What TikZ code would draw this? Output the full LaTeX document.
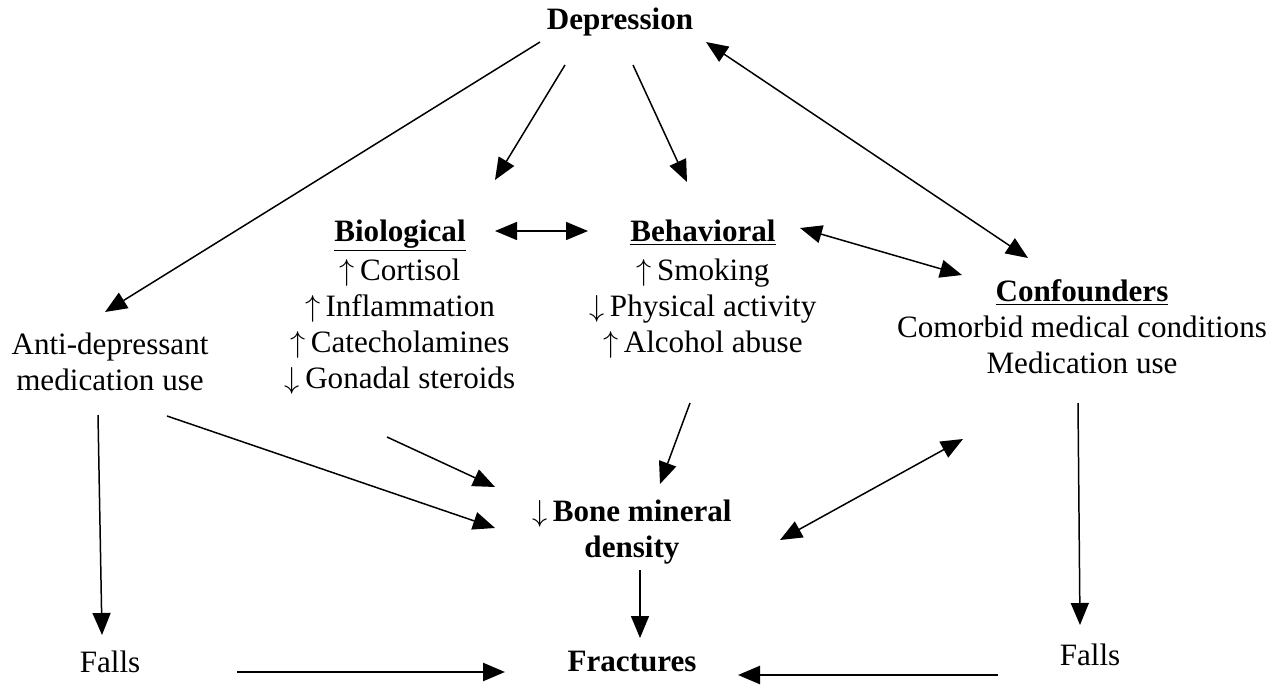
\documentclass[tikz,border=0pt]{standalone}
\usepackage{fontspec}
\setmainfont{Liberation Serif}
\usetikzlibrary{arrows.meta}
\newcommand\diagfont{\fontsize{17.7}{20.4}\selectfont}
\tikzset{
	txt/.style={font=\diagfont,align=center,inner sep=0pt},%
	heading/.style={font=\diagfont\bfseries,align=center,inner sep=0pt},%
	link/.style={-{Triangle[length=0.44cm,width=0.36cm]},line width=0.85pt},%
	twoway/.style={{Triangle[length=0.44cm,width=0.36cm]}-{Triangle[length=0.44cm,width=0.36cm]},line width=0.85pt},%
	heavy/.style={link,line width=1.4pt},%
}
\def\up{$\uparrow$\,}
\def\down{$\downarrow$\,}

\begin{document}
\begin{tikzpicture}[x=0.02cm,y=-0.02cm]
		\useasboundingbox (0,0) rectangle (1288,686);
		\node[heading] (dep) at (620,22) {Depression};
		\node[txt] (bio) at (400,307) {\textbf{\underline{Biological}}\\[2pt]\up Cortisol\\\up Inflammation\\\up Catecholamines\\\down Gonadal steroids};
		\node[txt] (beh) at (703,289) {\textbf{\underline{Behavioral}}\\[2pt]\up Smoking\\\down Physical activity\\\up Alcohol abuse};
		\node[txt] (conf) at (1082,327) {\textbf{\underline{Confounders}}\\Comorbid medical conditions\\Medication use};
		\node[txt] (anti) at (110,362) {Anti-depressant\\medication use};
		\node[heading] (bmd) at (632,532) {\down Bone mineral\\density};
		\node[txt] (fallsl) at (110,662) {Falls};
		\node[heading] (frac) at (632,662) {Fractures};
		\node[txt] (fallsr) at (1090,655) {Falls};
		% arrow ends
		\coordinate (dep-a) at (540,42);
		\coordinate (dep-b) at (565,65);
		\coordinate (dep-c) at (633,65);
		\coordinate (dep-d) at (706,42);
		\coordinate (anti-in) at (105,312);
		\coordinate (bio-in) at (495,180);
		\coordinate (beh-in) at (687,182);
		\coordinate (conf-in) at (1028,258);
		\coordinate (bio-r) at (495,231);
		\coordinate (beh-l) at (588,231);
		\coordinate (beh-r) at (800,228);
		\coordinate (conf-l) at (962,275);
		\coordinate (anti-a) at (98,415);
		\coordinate (anti-b) at (167,416);
		\coordinate (bio-out) at (387,437);
		\coordinate (beh-out) at (690,403);
		\coordinate (conf-a) at (963,439);
		\coordinate (conf-b) at (1078,403);
		\coordinate (bmd-a) at (495,528);
		\coordinate (bmd-b) at (495,487);
		\coordinate (bmd-c) at (660,484);
		\coordinate (bmd-d) at (780,540);
		\coordinate (bmd-out) at (640,570);
		\coordinate (fallsl-in) at (102,635);
		\coordinate (fallsr-in) at (1080,625);
		\coordinate (frac-in) at (640,638);
		\coordinate (fallsl-out) at (237,672);
		\coordinate (frac-l) at (505,672);
		\coordinate (fallsr-out) at (998,675);
		\coordinate (frac-r) at (738,675);
		\draw[link] (dep-a) -- (anti-in);
		\draw[link] (dep-b) -- (bio-in);
		\draw[link] (dep-c) -- (beh-in);
		\draw[twoway] (dep-d) -- (conf-in);
		\draw[twoway] (bio-r) -- (beh-l);
		\draw[twoway] (beh-r) -- (conf-l);
		\draw[link] (anti-a) -- (fallsl-in);
		\draw[link] (anti-b) -- (bmd-a);
		\draw[link] (bio-out) -- (bmd-b);
		\draw[link] (beh-out) -- (bmd-c);
		\draw[twoway] (conf-a) -- (bmd-d);
		\draw[link] (conf-b) -- (fallsr-in);
		\draw[link] (bmd-out) -- (frac-in);
		\draw[heavy] (fallsl-out) -- (frac-l);
		\draw[heavy] (fallsr-out) -- (frac-r);
	\end{tikzpicture}
\end{document}
